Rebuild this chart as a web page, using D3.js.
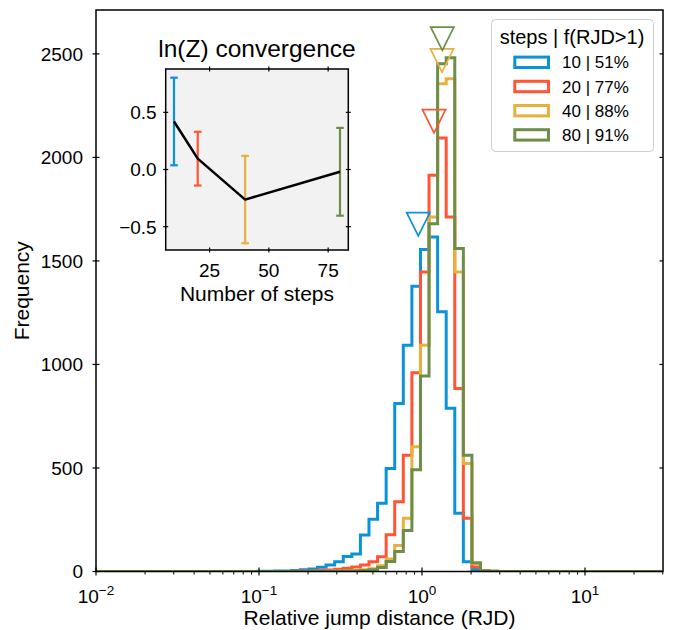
<!DOCTYPE html>
<html>
<head>
<meta charset="utf-8">
<script src="https://cdn.jsdelivr.net/npm/d3@7"></script>
<style>
  body { margin: 0; background: #fff; }
  svg { display: block; }
  text { font-family: "Liberation Sans", Arial, Helvetica, sans-serif; fill: #000; }
</style>
</head>
<body>
<svg id="chart" width="676" height="630"></svg>
<script>
// Chain lengths (number of steps) and the share of jumps with RJD > 1
const seriesSteps = [10, 20, 40, 80];
const seriesFrac = ["51%", "77%", "88%", "91%"];
const seriesColors = ["#0A93D9", "#FF5533", "#E8B03C", "#6C8E48"];

// Log-spaced histogram bins: log10 of the first tabulated edge, 19 bins per decade
const firstEdgeLog = -1.0094;
const binsPerDecade = 19;

// Counts per bin (same bins for every series)
const counts10 = [1, 1, 2, 3, 5, 8, 12, 20, 31, 47, 73, 84, 176, 252, 330, 498, 812, 1093, 1378, 1555, 1616, 1254, 788, 281, 47, 10, 2, 0];
const counts20 = [0, 0, 0, 0, 1, 2, 3, 5, 7, 11, 16, 22, 31, 47, 71, 178, 337, 562, 960, 1447, 1914, 2094, 1712, 884, 257, 22, 3, 1];
const counts40 = [0, 0, 0, 0, 0, 0, 0, 0, 1, 2, 3, 5, 8, 13, 28, 60, 126, 257, 602, 1093, 1712, 2356, 2380, 1447, 522, 38, 4, 1];
const counts80 = [0, 0, 0, 0, 0, 0, 0, 0, 0, 1, 2, 3, 5, 9, 19, 48, 96, 198, 491, 944, 1680, 2452, 2481, 1560, 562, 42, 4, 1];
const allCounts = [counts10, counts20, counts40, counts80];

// Downward triangle markers over each distribution
const markerX = [0.949, 1.185, 1.327, 1.332];
const markerY = [1677, 2175, 2468, 2573];

// Inset: evidence estimate vs number of steps
const lnZ = [0.42, 0.095, -0.263, -0.02];
const lnZErr = [0.383, 0.235, 0.382, 0.384];

// Tick values
const yTicksMain = [0, 500, 1000, 1500, 2000, 2500];
const xTickExp = [-2, -1, 0, 1];
const insetXTicks = [25, 50, 75];
const insetYTicks = [-0.5, 0, 0.5];

const svg = d3.select("#chart");
const M = { left: 96, right: 663, top: 10, bottom: 571.5 };

const x = d3.scaleLog().domain([0.01, 30.1]).range([M.left, M.right]);
const y = d3.scaleLinear().domain([0, 2712]).range([M.bottom, M.top]);

svg.append("defs").append("clipPath").attr("id", "plotClip")
  .append("rect")
  .attr("x", M.left).attr("y", M.top)
  .attr("width", M.right - M.left).attr("height", M.bottom - M.top);

// ---- step histograms ----
const line = d3.line().x(d => x(d[0])).y(d => y(d[1]));
const hist = svg.append("g").attr("clip-path", "url(#plotClip)");
allCounts.forEach((c, i) => {
  const edge = j => Math.pow(10, firstEdgeLog + j / binsPerDecade);
  const pts = [[x.domain()[0], 0], [edge(0), 0]];
  c.forEach((v, j) => { pts.push([edge(j), v], [edge(j + 1), v]); });
  pts.push([edge(c.length), 0], [x.domain()[1], 0]);
  hist.append("path")
    .attr("d", line(pts))
    .attr("fill", "none")
    .attr("stroke", seriesColors[i])
    .attr("stroke-width", 3)
    .attr("stroke-linejoin", "miter");
});

// ---- triangle markers ----
const tri = 11.6;
markerX.forEach((mx, i) => {
  const cx = x(mx), cy = y(markerY[i]);
  svg.append("path")
    .attr("d", `M${cx - tri},${cy - tri}L${cx + tri},${cy - tri}L${cx},${cy + tri}Z`)
    .attr("fill", "none")
    .attr("stroke", seriesColors[i])
    .attr("stroke-width", 1.7)
    .attr("stroke-linejoin", "miter");
});

// ---- main axes ----
const axes = svg.append("g");
axes.append("rect")
  .attr("x", M.left).attr("y", M.top)
  .attr("width", M.right - M.left).attr("height", M.bottom - M.top)
  .attr("fill", "none").attr("stroke", "#000").attr("stroke-width", 1.5);

// y ticks and labels
yTicksMain.forEach(v => {
  const yy = y(v);
  axes.append("line").attr("x1", M.left - 3.5).attr("x2", M.left + 3.5)
    .attr("y1", yy).attr("y2", yy).attr("stroke", "#000").attr("stroke-width", 1.2);
  axes.append("line").attr("x1", M.right - 3.5).attr("x2", M.right)
    .attr("y1", yy).attr("y2", yy).attr("stroke", "#000").attr("stroke-width", 1.2);
  axes.append("text").attr("x", M.left - 13).attr("y", yy).attr("dy", "0.36em")
    .attr("text-anchor", "end").attr("font-size", 19).text(v);
});

// x major ticks with power-of-ten labels
xTickExp.forEach(e => {
  const xx = x(Math.pow(10, e));
  axes.append("line").attr("x1", xx).attr("x2", xx)
    .attr("y1", M.bottom - 4).attr("y2", M.bottom + 4)
    .attr("stroke", "#000").attr("stroke-width", 1.2);
  const t = axes.append("text").attr("x", xx).attr("y", 603)
    .attr("text-anchor", "middle").attr("font-size", 19);
  t.append("tspan").text("10");
  t.append("tspan").attr("dy", -8).attr("font-size", 13.5)
    .text(e < 0 ? "\u2212" + (-e) : String(e));
});
// x minor ticks
for (let e = -2; e <= 1; e++) {
  for (let m = 2; m <= 9; m++) {
    const v = m * Math.pow(10, e);
    if (v > x.domain()[1]) continue;
    const xx = x(v);
    axes.append("line").attr("x1", xx).attr("x2", xx)
      .attr("y1", M.bottom).attr("y2", M.bottom + 3)
      .attr("stroke", "#000").attr("stroke-width", 1);
  }
}

axes.append("text")
  .attr("x", (M.left + M.right) / 2).attr("y", 625)
  .attr("text-anchor", "middle").attr("font-size", 21)
  .text("Relative jump distance (RJD)");
axes.append("text")
  .attr("transform", `translate(29,${(M.top + M.bottom) / 2}) rotate(-90)`)
  .attr("text-anchor", "middle").attr("font-size", 21)
  .text("Frequency");

// ---- legend ----
const lg = svg.append("g");
lg.append("rect").attr("x", 491.5).attr("y", 19.5).attr("width", 162).attr("height", 132)
  .attr("rx", 4).attr("fill", "#fff").attr("fill-opacity", 0.85)
  .attr("stroke", "#cccccc").attr("stroke-width", 1);
lg.append("text").attr("x", 572).attr("y", 43.5).attr("text-anchor", "middle")
  .attr("font-size", 20).text("steps | f(RJD>1)");
seriesSteps.forEach((s, i) => {
  const cy = 62.3 + i * 24.2;
  lg.append("rect").attr("x", 514.8).attr("y", cy - 5.2).attr("width", 33.7).attr("height", 10.4)
    .attr("fill", "#fff").attr("stroke", seriesColors[i]).attr("stroke-width", 3);
  lg.append("text").attr("x", 562).attr("y", cy).attr("dy", "0.36em")
    .attr("font-size", 17).text(`${s} | ${seriesFrac[i]}`);
});

// ---- inset: ln(Z) convergence ----
const I = { left: 165.7, right: 348.3, top: 69, bottom: 250 };
const ix = d3.scaleLinear().domain([6.5, 83.5]).range([I.left, I.right]);
const iy = d3.scaleLinear().domain([-0.704, 0.879]).range([I.bottom, I.top]);
const inset = svg.append("g");
inset.append("rect").attr("x", I.left).attr("y", I.top)
  .attr("width", I.right - I.left).attr("height", I.bottom - I.top)
  .attr("fill", "#f2f2f2");

// error bars
seriesSteps.forEach((s, i) => {
  const xx = ix(s), y0 = iy(lnZ[i] - lnZErr[i]), y1 = iy(lnZ[i] + lnZErr[i]);
  const g = inset.append("g").attr("stroke", seriesColors[i]).attr("stroke-width", 2.2);
  g.append("line").attr("x1", xx).attr("x2", xx).attr("y1", y0).attr("y2", y1);
  g.append("line").attr("x1", xx - 3.8).attr("x2", xx + 3.8).attr("y1", y0).attr("y2", y0);
  g.append("line").attr("x1", xx - 3.8).attr("x2", xx + 3.8).attr("y1", y1).attr("y2", y1);
});
inset.append("path")
  .attr("d", d3.line().x((d, i) => ix(seriesSteps[i])).y(d => iy(d))(lnZ))
  .attr("fill", "none").attr("stroke", "#000").attr("stroke-width", 2.5)
  .attr("stroke-linejoin", "round");

inset.append("rect").attr("x", I.left).attr("y", I.top)
  .attr("width", I.right - I.left).attr("height", I.bottom - I.top)
  .attr("fill", "none").attr("stroke", "#000").attr("stroke-width", 1.5);

const fmt = d3.format(".1f");
insetXTicks.forEach(v => {
  const xx = ix(v);
  [I.top, I.bottom].forEach(yy => inset.append("line").attr("x1", xx).attr("x2", xx)
    .attr("y1", yy - 2.5).attr("y2", yy + 2.5).attr("stroke", "#000").attr("stroke-width", 1.2));
  inset.append("text").attr("x", xx).attr("y", 276.5).attr("text-anchor", "middle")
    .attr("font-size", 19).text(v);
});
insetYTicks.forEach(v => {
  const yy = iy(v);
  [I.left, I.right].forEach(xx => inset.append("line").attr("x1", xx - 2.5).attr("x2", xx + 2.5)
    .attr("y1", yy).attr("y2", yy).attr("stroke", "#000").attr("stroke-width", 1.2));
  inset.append("text").attr("x", I.left - 9).attr("y", yy).attr("dy", "0.36em")
    .attr("text-anchor", "end").attr("font-size", 19).text(fmt(v));
});
inset.append("text").attr("x", (I.left + I.right) / 2).attr("y", 57)
  .attr("text-anchor", "middle").attr("font-size", 24.5).text("ln(Z) convergence");
inset.append("text").attr("x", (I.left + I.right) / 2).attr("y", 301)
  .attr("text-anchor", "middle").attr("font-size", 21).text("Number of steps");
</script>
</body>
</html>
